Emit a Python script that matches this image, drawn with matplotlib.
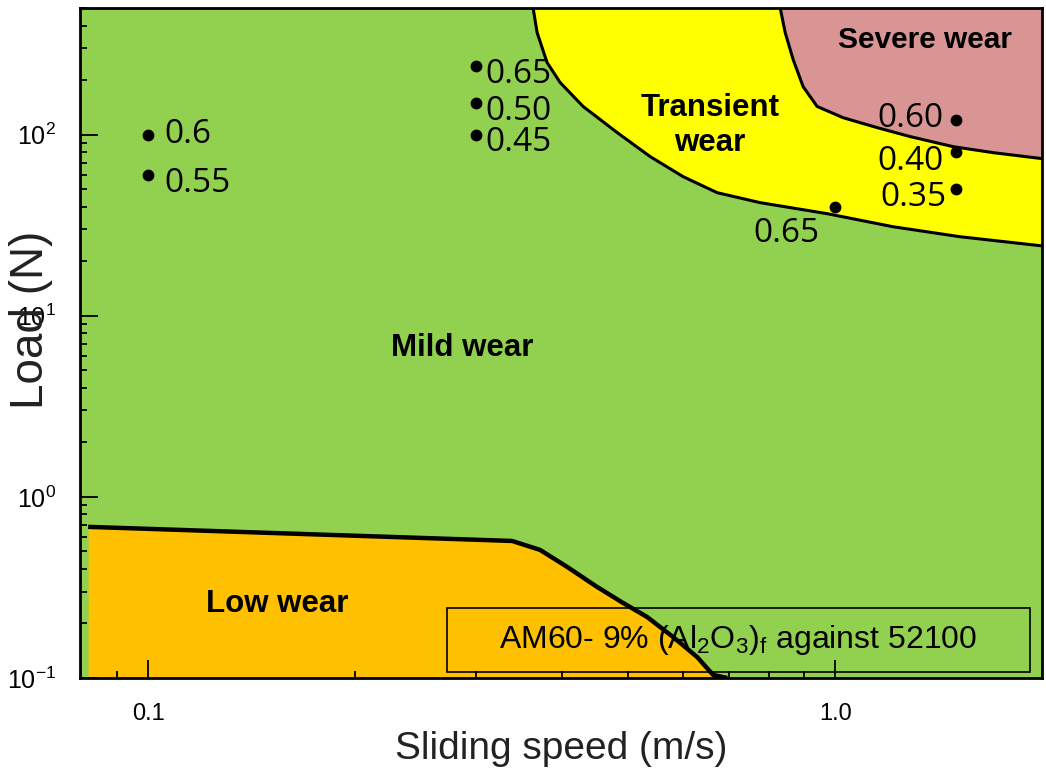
import matplotlib.pyplot as plt
from matplotlib.patches import Rectangle
from matplotlib.ticker import FixedLocator, LogLocator, NullFormatter

plt.rcParams['font.family'] = ['Liberation Sans', 'DejaVu Sans']
plt.rcParams['mathtext.fontset'] = 'custom'
plt.rcParams['mathtext.rm'] = 'Liberation Sans'
plt.rcParams['mathtext.it'] = 'Liberation Sans:italic'
plt.rcParams['mathtext.bf'] = 'Liberation Sans:bold'

# wear regime boundaries (sliding speed m/s, load N)
low_speed = [0.0818, 0.3387, 0.372, 0.4073, 0.4503, 0.4912, 0.5324, 0.5809, 0.6296, 0.6643, 0.6964]
low_load = [0.683, 0.571, 0.5095, 0.4106, 0.3183, 0.2597, 0.2173, 0.1684, 0.1306, 0.104, 0.1]

trans_speed = [0.3634, 0.3683, 0.3808, 0.3978, 0.4297, 0.4817, 0.538, 0.6008, 0.6733,
               0.7777, 0.9736, 1.214, 1.52, 2.0]
trans_load = [500, 366, 250, 194, 143, 102.6, 75.6, 58.6, 47.8, 42.1, 36.6, 31.0, 27.3, 24.3]

severe_speed = [0.8318, 0.8458, 0.8687, 0.8982, 0.9414, 1.027, 1.151, 1.286, 1.485, 1.698, 2.0]
severe_load = [500, 366, 259.7, 184, 143, 124, 109.3, 97.5, 85.8, 79.5, 73.7]

# test points and friction coefficients
point_speed = [0.1, 0.1, 0.3, 0.3, 0.3, 1.0, 1.5, 1.5, 1.5]
point_load = [100, 60, 240, 150, 100, 40, 120, 80, 50]
point_cof = ['0.6', '0.55', '0.65', '0.50', '0.45', '0.65', '0.60', '0.40', '0.35']

x_ticks = [0.1, 1.0]
x_ticklabels = ['0.1', '1.0']
y_ticks = [0.1, 1, 10, 100]
y_ticklabels = ['10$^{-1}$', '10$^{0}$', '10$^{1}$', '10$^{2}$']

# label offsets in points and alignment
label_offsets = [(12, 0), (12, -6), (7, -6), (7, -6), (7, -6), (-35, -19), (-9, 1), (-9, -6.5), (-7, -6)]
label_ha = ['left', 'left', 'left', 'left', 'left', 'center', 'right', 'right', 'right']

green = '#92D050'
yellow = '#FFFF00'
pink = '#D99594'
orange = '#FFC000'

x_min, x_max = 0.0796, 2.0
y_min, y_max = 0.1, 500

fig = plt.figure(figsize=(10.46, 7.78), dpi=100)
ax = fig.add_axes([80 / 1046, 100 / 778, 962 / 1046, 670 / 778])
ax.set_xscale('log')
ax.set_yscale('log')
ax.set_xlim(x_min, x_max)
ax.set_ylim(y_min, y_max)
ax.set_facecolor(green)

# regions
ax.fill_between(low_speed, y_min, low_load, color=orange, lw=0, zorder=1)
ax.fill_between(trans_speed, trans_load, y_max, color=yellow, lw=0, zorder=1)
ax.fill_between(severe_speed, severe_load, y_max, color=pink, lw=0, zorder=2)

ax.plot(low_speed, low_load, color='black', lw=3.2, zorder=3, solid_capstyle='butt')
ax.plot(trans_speed, trans_load, color='black', lw=2.2, zorder=3)
ax.plot(severe_speed, severe_load, color='black', lw=2.2, zorder=3)

# points
ax.plot(point_speed, point_load, 'o', color='black', ms=7.5, zorder=4)
for i in range(len(point_speed)):
    ax.annotate(point_cof[i], (point_speed[i], point_load[i]), xytext=label_offsets[i],
                textcoords='offset points', ha=label_ha[i], va='center',
                fontsize=24, family=['Open Sans', 'DejaVu Sans'], zorder=5)

# region names
label_kw = dict(transform=ax.transAxes, ha='center', va='center', fontweight='bold', zorder=5)
ax.text(0.878, 0.952, 'Severe wear', fontsize=21.5, **label_kw)
ax.text(0.655, 0.825, 'Transient\nwear', fontsize=22.5, linespacing=1.2, **label_kw)
ax.text(0.397, 0.4925, 'Mild wear', fontsize=22.5, **label_kw)
ax.text(0.205, 0.110, 'Low wear', fontsize=22.5, **label_kw)

# material box
ax.add_patch(Rectangle((0.3815, 0.009), 0.606, 0.0955, transform=ax.transAxes,
                       fill=False, edgecolor='black', lw=1.2, zorder=5))
ax.text(0.684, 0.0565, 'AM60- 9% (Al$_2$O$_3$)$_\\mathrm{f}$ against 52100', transform=ax.transAxes,
        ha='center', va='center', fontsize=23, zorder=5)

# axes styling
for s in ax.spines.values():
    s.set_linewidth(2.0)
    s.set_zorder(6)

ax.xaxis.set_major_locator(FixedLocator(x_ticks))
ax.set_xticklabels(x_ticklabels)
ax.xaxis.set_minor_locator(LogLocator(base=10, subs=range(2, 10)))
ax.xaxis.set_minor_formatter(NullFormatter())
ax.yaxis.set_major_locator(FixedLocator(y_ticks))
ax.set_yticklabels(y_ticklabels)
ax.yaxis.set_minor_locator(LogLocator(base=10, subs=range(2, 10)))
ax.yaxis.set_minor_formatter(NullFormatter())

ax.tick_params(which='major', direction='in', length=13, width=1.3, labelsize=18, pad=16, colors='black')
ax.tick_params(which='minor', direction='in', length=5, width=1.3)
ax.tick_params(axis='y', which='major', pad=17)
ax.tick_params(axis='x', which='major', labelsize=17, pad=18)

ax.set_xlabel('Sliding speed (m/s)', fontsize=28, color='#222222', labelpad=4)
ax.set_ylabel('Load (N)', fontsize=33, color='#222222')
ax.yaxis.set_label_coords(-0.028, 0.535)

fig.savefig('out.png', dpi=100)
